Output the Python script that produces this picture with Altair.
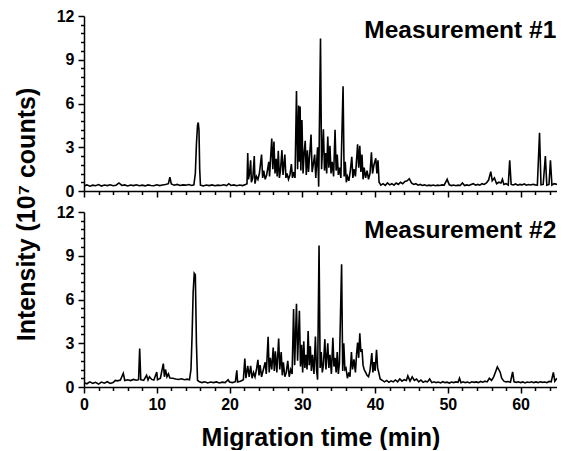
import altair as alt
import pandas as pd

# ---------------- Measurement #1 (time in min, intensity in 1e7 counts) ----------------
t1 = [
    0.0, 0.4, 0.8, 1.2, 1.6, 2.0, 2.4, 2.8, 3.2, 3.6,
    4.0, 4.4, 4.8, 5.2, 5.6, 6.0, 6.4, 6.8, 7.2, 7.6,
    8.0, 8.4, 8.8, 9.2, 9.6, 10.0, 10.4, 10.8, 11.2, 11.6,
    11.8, 12.0, 12.4, 12.8, 13.2, 13.6, 14.0, 14.4, 14.8, 15.1,
    15.3, 15.45, 15.6, 15.7, 15.8, 15.9, 16.0, 16.4, 16.8, 17.2,
    17.6, 18.0, 18.4, 18.8, 19.2, 19.6, 19.9, 20.2, 20.6, 21.0,
    21.4, 21.8, 22.2, 22.4,
    22.5, 22.6, 22.75, 22.9, 23.0, 23.2, 23.4, 23.5, 23.7, 23.9,
    24.1, 24.4, 24.55, 24.7, 24.9, 25.1, 25.4, 25.5, 25.8, 25.95,
    26.1, 26.25, 26.4, 26.55, 26.7, 26.85, 27.0, 27.2, 27.35, 27.6,
    27.75, 27.9, 28.1, 28.3, 28.5, 28.65, 28.85, 29.0, 29.2, 29.35,
    29.5, 29.6, 29.7, 29.8, 29.95, 30.1, 30.25, 30.4, 30.55, 30.7,
    30.85, 31.0, 31.2, 31.35, 31.5, 31.7, 31.85, 32.1, 32.25, 32.5,
    32.65, 32.9, 33.05, 33.2, 33.35, 33.5, 33.65, 33.8, 33.95, 34.1,
    34.3, 34.5, 34.65, 34.8, 34.95, 35.1, 35.3, 35.6, 35.75, 35.9,
    36.05, 36.2, 36.4, 36.6, 36.8, 36.95, 37.1, 37.3, 37.6, 37.75,
    37.9, 38.05, 38.2, 38.35, 38.5, 38.7, 38.9, 39.1, 39.3, 39.5,
    39.65, 39.85, 40.1, 40.25, 40.4, 40.55, 40.8, 41.1, 41.4, 41.7,
    42.0, 42.3, 42.6, 42.9, 43.2, 43.5, 43.8, 44.1, 44.4, 44.7,
    45.0, 45.3, 45.6, 45.9, 46.2, 46.5, 46.8, 47.1, 47.4, 47.7,
    48.0, 48.3, 48.6, 48.9, 49.2, 49.5, 49.9, 50.2, 50.5, 50.8,
    51.1, 51.4, 51.7, 52.0, 52.3, 52.6, 52.9, 53.2, 53.5, 53.8,
    54.1, 54.4, 54.7, 55.0, 55.3, 55.6, 55.9, 56.1, 56.4, 56.7,
    57.0, 57.3, 57.5, 57.7, 58.0, 58.3, 58.5, 58.7, 59.0, 59.3,
    59.6, 59.9, 60.2, 60.5, 60.8, 61.1, 61.4, 61.7, 62.0, 62.3,
    62.6, 62.8, 63.1, 63.4, 63.6, 63.9, 64.1, 64.3, 64.6, 65.0,
]
y1 = [
    0.35, 0.42, 0.33, 0.40, 0.36, 0.44, 0.34, 0.41, 0.37, 0.43,
    0.36, 0.40, 0.55, 0.38, 0.42, 0.35, 0.41, 0.37, 0.43, 0.36,
    0.40, 0.35, 0.42, 0.38, 0.36, 0.43, 0.37, 0.41, 0.45, 0.50,
    0.95, 0.48, 0.40, 0.45, 0.38, 0.42, 0.40, 0.44, 0.38, 0.42,
    1.20, 3.20, 4.50, 4.70, 4.20, 1.50, 0.40, 0.35, 0.41, 0.37,
    0.42, 0.36, 0.40, 0.38, 0.43, 0.37, 0.50, 0.38, 0.42, 0.36,
    0.41, 0.37, 0.45, 0.50,
    2.60, 0.80, 1.20, 2.10, 0.60, 0.90, 2.40, 0.50, 1.00, 0.80,
    1.20, 2.50, 0.90, 1.40, 0.80, 1.10, 2.00, 1.00, 3.60, 1.50,
    3.40, 1.20, 2.20, 1.00, 2.75, 0.90, 1.40, 2.80, 1.10, 2.50,
    0.90, 1.20, 0.80, 1.10, 1.85, 0.90, 1.30, 0.90, 6.86, 1.50,
    5.86, 2.00, 5.80, 1.40, 4.87, 1.20, 2.60, 3.44, 1.10, 2.80,
    1.30, 2.40, 3.87, 1.30, 1.80, 2.50, 0.90, 3.00, 0.30, 10.46,
    1.50, 4.23, 1.40, 2.60, 1.20, 3.73, 1.60, 3.10, 1.20, 2.00,
    1.00, 4.19, 1.40, 2.50, 1.10, 1.60, 0.90, 7.18, 1.00, 2.00,
    0.60, 1.00, 0.70, 1.40, 2.35, 0.90, 1.50, 1.00, 3.20, 1.60,
    3.10, 1.30, 2.50, 0.80, 1.60, 0.90, 1.40, 0.80, 1.20, 2.65,
    1.20, 1.80, 2.24, 1.20, 2.10, 0.60, 0.40, 0.50, 0.38, 0.55,
    0.42, 0.50, 0.40, 0.55, 0.45, 0.60, 0.50, 0.65, 0.70, 0.84,
    0.55, 0.45, 0.50, 0.40, 0.45, 0.38, 0.42, 0.36, 0.40, 0.37,
    0.41, 0.36, 0.40, 0.38, 0.42, 0.40, 0.80, 0.42, 0.37, 0.41,
    0.36, 0.40, 0.38, 0.55, 0.37, 0.42, 0.38, 0.45, 0.50, 0.40,
    0.45, 0.40, 0.50, 0.45, 0.55, 0.75, 1.33, 0.70, 0.90, 0.50,
    0.60, 0.55, 0.80, 0.45, 0.50, 0.40, 2.10, 0.45, 0.42, 0.48,
    0.40, 0.45, 0.42, 0.48, 0.40, 0.44, 0.41, 0.46, 0.42, 0.40,
    4.00, 0.42, 0.45, 2.40, 0.40, 0.45, 2.10, 0.40, 0.50, 0.45,
]

# ---------------- Measurement #2 ----------------
t2 = [
    0.0, 0.4, 0.8, 1.2, 1.6, 2.0, 2.4, 2.8, 3.2, 3.6,
    4.0, 4.3, 4.6, 5.0, 5.4, 5.6, 6.0, 6.4, 6.8, 7.2,
    7.5, 7.65, 7.8, 8.2, 8.6, 8.8, 9.0, 9.3, 9.6, 10.0,
    10.1, 10.5, 10.9, 11.05, 11.2, 11.4, 11.6, 11.8, 12.2, 12.6,
    13.0, 13.4, 13.8, 14.2, 14.5, 14.7, 14.85, 15.0, 15.15, 15.3,
    15.45, 15.6, 15.8, 16.2, 16.6, 17.0, 17.4, 17.8, 18.2, 18.6,
    19.0, 19.4, 19.8, 20.0, 20.4, 20.8, 21.0, 21.1, 21.5, 21.9,
    22.1, 22.25, 22.5, 22.7, 22.9, 23.1, 23.3, 23.5, 23.7, 23.9,
    24.05, 24.2, 24.4, 24.6, 24.9, 25.05, 25.3, 25.45, 25.6, 25.8,
    26.0, 26.15, 26.3, 26.5, 26.75, 26.9, 27.1, 27.25, 27.4, 27.6,
    27.8, 28.0, 28.2, 28.4, 28.6, 28.8, 28.95, 29.2, 29.35, 29.6,
    29.75, 29.9, 30.05, 30.2, 30.35, 30.5, 30.65, 30.8, 30.95, 31.1,
    31.25, 31.4, 31.6, 31.8, 31.95, 32.1, 32.3, 32.45, 32.6, 32.75,
    32.9, 33.1, 33.25, 33.5, 33.65, 33.8, 34.0, 34.2, 34.35, 34.5,
    34.65, 34.8, 34.95, 35.1, 35.4, 35.55, 35.7, 35.85, 36.0, 36.2,
    36.4, 36.55, 36.75, 36.9, 37.1, 37.3, 37.45, 37.6, 37.75, 37.9,
    38.05, 38.2, 38.35, 38.5, 38.7, 38.9, 39.1, 39.3, 39.55, 39.7,
    39.85, 40.0, 40.2, 40.35, 40.5, 40.7, 41.0, 41.3, 41.6, 41.9,
    42.2, 42.5, 42.8, 43.1, 43.4, 43.7, 44.0, 44.3, 44.5, 44.8,
    45.1, 45.4, 45.7, 46.0, 46.3, 46.6, 46.9, 47.2, 47.5, 47.8,
    48.1, 48.4, 48.7, 49.0, 49.3, 49.6, 49.9, 50.2, 50.5, 50.8,
    51.1, 51.4, 51.6, 51.8, 52.1, 52.4, 52.7, 53.0, 53.3, 53.6,
    53.9, 54.2, 54.5, 54.8, 55.1, 55.4, 55.7, 56.0, 56.3, 56.6,
    56.8, 57.0, 57.2, 57.4, 57.7, 58.0, 58.3, 58.6, 58.9, 59.1,
    59.4, 59.7, 60.0, 60.3, 60.6, 60.9, 61.2, 61.5, 61.8, 62.1,
    62.4, 62.7, 63.0, 63.3, 63.6, 63.9, 64.2, 64.5, 64.7, 65.0,
]
y2 = [
    0.30, 0.22, 0.35, 0.25, 0.32, 0.20, 0.34, 0.26, 0.36, 0.24,
    0.30, 0.45, 0.42, 0.48, 0.94, 0.45, 0.50, 0.44, 0.52, 0.46,
    0.50, 2.64, 0.50, 0.46, 0.80, 0.48, 0.70, 0.52, 0.48, 1.03,
    0.50, 0.60, 1.60, 0.70, 1.20, 0.70, 0.90, 0.62, 0.60, 0.55,
    0.52, 0.56, 0.50, 0.54, 0.50, 1.20, 3.50, 6.50, 7.80, 7.70,
    3.00, 0.45, 0.38, 0.30, 0.36, 0.28, 0.34, 0.30, 0.35, 0.28,
    0.33, 0.30, 0.50, 0.34, 0.30, 0.36, 1.15, 0.35, 0.40, 0.50,
    1.95, 0.60, 1.45, 0.70, 1.45, 0.60, 1.00, 0.70, 1.20, 1.86,
    0.80, 1.50, 0.70, 1.10, 1.70, 0.90, 3.44, 1.00, 2.00, 1.20,
    2.70, 1.10, 2.45, 1.00, 3.33, 1.20, 2.40, 0.80, 1.70, 0.70,
    1.00, 1.80, 0.70, 1.20, 0.90, 5.34, 1.50, 5.71, 1.80, 5.23,
    1.40, 2.90, 1.00, 3.14, 1.30, 2.20, 1.20, 3.83, 1.50, 2.80,
    1.10, 2.20, 0.90, 3.46, 1.20, 0.50, 9.70, 1.30, 2.40, 1.00,
    1.50, 3.28, 1.20, 3.00, 1.30, 2.20, 0.90, 3.37, 1.40, 2.00,
    1.00, 2.40, 0.90, 1.60, 8.41, 1.10, 3.00, 1.20, 1.30, 0.60,
    1.00, 0.70, 2.40, 1.20, 1.90, 1.00, 2.20, 3.05, 2.00, 3.69,
    2.40, 2.60, 1.50, 1.20, 1.00, 0.80, 0.70, 1.10, 2.32, 1.00,
    1.70, 1.10, 2.55, 1.30, 1.00, 0.55, 0.45, 0.35, 0.45, 0.32,
    0.42, 0.35, 0.48, 0.36, 0.55, 0.40, 0.50, 0.45, 0.76, 0.40,
    0.70, 0.45, 0.55, 0.35, 0.48, 0.32, 0.40, 0.35, 0.55, 0.30,
    0.36, 0.30, 0.34, 0.28, 0.36, 0.30, 0.33, 0.27, 0.34, 0.30,
    0.35, 0.32, 0.60, 0.30, 0.36, 0.30, 0.34, 0.28, 0.36, 0.32,
    0.35, 0.30, 0.38, 0.33, 0.40, 0.35, 0.60, 0.45, 0.70, 1.10,
    1.38, 1.20, 1.00, 0.60, 0.40, 0.35, 0.38, 0.33, 1.03, 0.35,
    0.32, 0.36, 0.30, 0.35, 0.28, 0.34, 0.31, 0.36, 0.30, 0.35,
    0.30, 0.36, 0.32, 0.34, 0.30, 0.38, 0.35, 1.00, 0.40, 0.60,
]

# panel labels
label_text = ["Measurement #1", "Measurement #2"]
label_t = [64.9, 64.9]
label_y = [10.5, 10.2]

# axis tick positions (majors labelled, the rest are minor ticks)
x_ticks = [0, 2, 4, 6, 8, 10, 12, 14, 16, 18, 20, 22, 24, 26, 28, 30, 32,
           34, 36, 38, 40, 42, 44, 46, 48, 50, 52, 54, 56, 58, 60, 62, 64]
y_ticks = [0, 0.6, 1.2, 1.8, 2.4, 3, 3.6, 4.2, 4.8, 5.4, 6, 6.6, 7.2, 7.8,
           8.4, 9, 9.6, 10.2, 10.8, 11.4, 12]

FONT = "Liberation Sans"
W, H = 473, 175

x_major = "datum.value % 10 === 0"
y_major = "round(datum.value * 10) % 30 === 0"


def panel(t, y, idx, bottom):
    df = pd.DataFrame({"t": t, "y": y})
    lab = pd.DataFrame({"t": [label_t[idx]], "y": [label_y[idx]], "label": [label_text[idx]]})
    x_axis_kwargs = dict(
        values=x_ticks,
        tickSize={"condition": {"test": x_major, "value": 6}, "value": 3.5},
        labelExpr=f"{x_major} ? format(datum.value, 'd') : ''",
        labelPadding=3,
        labelFlush=False,
    )
    if bottom:
        x_axis = alt.Axis(title="Migration time (min)", titlePadding=13, **x_axis_kwargs)
    else:
        x_axis = alt.Axis(title=None, labels=False, **x_axis_kwargs)
    y_axis_kwargs = dict(
        values=y_ticks,
        tickSize={"condition": {"test": y_major, "value": 6}, "value": 3.5},
        labelExpr=f"{y_major} ? format(datum.value, 'd') : ''",
        labelPadding=4,
        labelFlush=False,
    )
    if bottom:
        y_axis = alt.Axis(title=None, **y_axis_kwargs)
    else:
        y_axis = alt.Axis(title="Intensity (10\u2077 counts)", titleX=-45, titleY=198,
                          titleAlign="center", titleBaseline="bottom", **y_axis_kwargs)
    X = alt.X("t:Q", scale=alt.Scale(domain=[0, 65], nice=False, zero=False), axis=x_axis)
    Y = alt.Y("y:Q", scale=alt.Scale(domain=[0, 12], nice=False), axis=y_axis)
    line = alt.Chart(df).mark_line(color="black", strokeWidth=1.6, clip=True).encode(x=X, y=Y)
    txt = alt.Chart(lab).mark_text(
        align="right", baseline="alphabetic", font=FONT, fontSize=24.5,
        fontWeight="bold", color="black"
    ).encode(x=X, y=Y, text="label:N")
    return alt.layer(line, txt).properties(width=W, height=H)


top = panel(t1, y1, 0, False)
bot = panel(t2, y2, 1, True)

chart = alt.vconcat(top, bot, spacing=21, bounds="flush").properties(
    padding={"left": 6, "top": 0, "right": 0, "bottom": 0}
).configure_view(stroke=None).configure_axis(
    grid=False,
    domainColor="black",
    domainWidth=1.5,
    tickColor="black",
    tickWidth=1.5,
    labelFont=FONT,
    labelFontSize=16,
    labelFontWeight="bold",
    labelColor="black",
    titleFont=FONT,
    titleFontSize=25,
    titleFontWeight="bold",
    titleColor="black",
)

chart.save("out.html", embed_options={"renderer": "svg", "actions": False})
